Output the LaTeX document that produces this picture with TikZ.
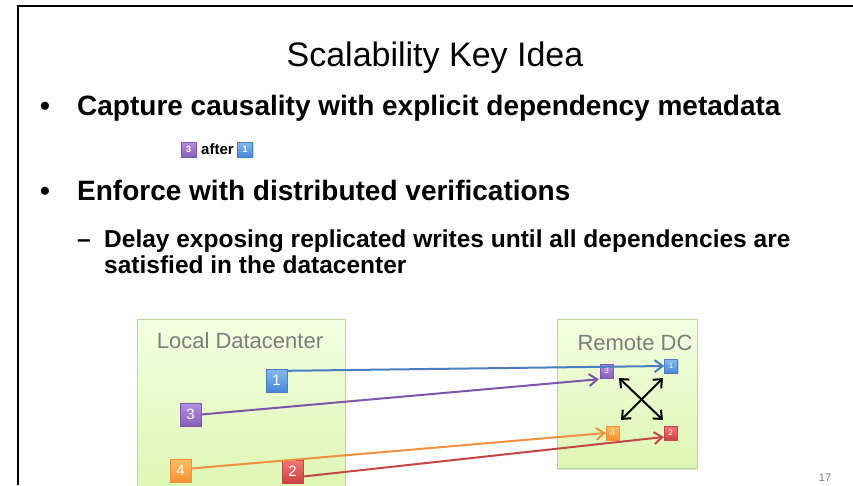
\documentclass[tikz,border=0pt]{standalone}
\usepackage{fontspec}
\setmainfont{Liberation Sans}
\usetikzlibrary{arrows.meta,shadows}
\definecolor{bluetop}{RGB}{135,185,240}
\definecolor{bluebot}{RGB}{70,135,215}
\definecolor{blueline}{RGB}{75,125,195}
\definecolor{purptop}{RGB}{180,145,225}
\definecolor{purpbot}{RGB}{135,95,185}
\definecolor{purpline}{RGB}{125,85,170}
\definecolor{orgtop}{RGB}{255,190,100}
\definecolor{orgbot}{RGB}{245,145,50}
\definecolor{orgline}{RGB}{240,145,65}
\definecolor{redtop}{RGB}{240,120,120}
\definecolor{redbot}{RGB}{205,65,65}
\definecolor{redline}{RGB}{195,70,70}
\definecolor{grtop}{RGB}{242,255,225}
\definecolor{grbot}{RGB}{222,246,180}
\definecolor{grborder}{RGB}{185,215,150}
\definecolor{labgray}{RGB}{125,125,125}
\tikzset{
  dcbox/.style={draw=grborder, line width=0.8pt, top color=grtop, bottom color=grbot, drop shadow={shadow xshift=1pt, shadow yshift=-2pt, opacity=0.25}},
  dclabel/.style={text=labgray, font=\fontsize{22}{26}\selectfont, inner sep=0pt},
  numbox/.style={rectangle, inner sep=0pt, text=white, drop shadow={shadow xshift=1pt, shadow yshift=-1pt, opacity=0.3}},
  bignum/.style={numbox, minimum width=21pt, minimum height=23pt, font=\fontsize{15}{15}\selectfont},
  smallnum/.style={numbox, minimum width=13pt, minimum height=14pt, font=\fontsize{8}{8}\selectfont},
  legnum/.style={numbox, minimum width=15pt, minimum height=15pt, font=\bfseries\fontsize{9}{9}\selectfont},
  bluebox/.style={draw=blueline, top color=bluetop, bottom color=bluebot},
  purpbox/.style={draw=purpline, top color=purptop, bottom color=purpbot},
  orgbox/.style={draw=orgbot, top color=orgtop, bottom color=orgbot},
  redbox/.style={draw=redline, top color=redtop, bottom color=redbot},
  conn/.style={line width=2pt, -{Straight Barb[length=8pt,width=12pt,line width=2pt]}},
  sync/.style={line width=2pt, black, {Straight Barb[length=7pt,width=12pt,line width=2pt]}-{Straight Barb[length=7pt,width=12pt,line width=2pt]}},
  bullettext/.style={anchor=base west, inner sep=0pt, font=\bfseries\fontsize{28}{32}\selectfont},
  subtext/.style={anchor=base west, inner sep=0pt, font=\bfseries\fontsize{24.5}{28}\selectfont},
}
\begin{document}
\begin{tikzpicture}[x=1pt,y=-1pt]
\useasboundingbox (0,0) rectangle (853,485);
\fill[white] (0,0) rectangle (853,485);
% frame
\draw[line width=2.5pt, black] (18,485) -- (18,6) -- (853,6);
% title
\node[anchor=base, inner sep=0pt, font=\fontsize{34}{38}\selectfont] (title) at (435,66) {Scalability Key Idea};
% bullets
\node[bullettext] (b1dot) at (40,115) {•};
\node[bullettext] (b1) at (77,115) {Capture causality with explicit dependency metadata};
\node[legnum, purpbox] (leg3) at (188.5,149.5) {3};
\node[anchor=west, inner sep=0pt, font=\bfseries\fontsize{15}{18}\selectfont] (after) at (201,149.5) {after};
\node[legnum, bluebox] (leg1) at (245,149.5) {1};
\node[bullettext] (b2dot) at (40,200) {•};
\node[bullettext] (b2) at (77,200) {Enforce with distributed verifications};
\node[subtext] (sdash) at (77,247) {–};
\node[subtext] (s1) at (104,247) {Delay exposing replicated writes until all dependencies are};
\node[subtext] (s2) at (104,273) {satisfied in the datacenter};
% datacenters
\path[dcbox] (137,319) rectangle (345,492);
\path[dcbox] (557,319) rectangle (697,468);
\node[dclabel] (loclab) at (240,341) {Local Datacenter};
\node[dclabel] (remlab) at (635,343) {Remote DC};
% local boxes
\node[bignum, bluebox] (l1) at (276.5,380.5) {1};
\node[bignum, purpbox] (l3) at (190.5,414.5) {3};
\node[bignum, orgbox] (l4) at (180.5,470.5) {4};
\node[bignum, redbox] (l2) at (292.5,471.5) {2};
% remote boxes
\node[smallnum, bluebox] (r1) at (671,366) {1};
\node[smallnum, purpbox] (r3) at (606.5,371) {3};
\node[smallnum, orgbox] (r4) at (612.5,433) {4};
\node[smallnum, redbox] (r2) at (670.5,433) {2};
% connectors
\draw[conn, blueline] ([yshift=-2pt]l1.north east) -- (r1.west);
\draw[conn, purpline] (l3.east) -- ([xshift=-1pt,yshift=-1pt]r3.south west);
\draw[conn, orgline] ([yshift=2pt]l4.east) -- (r4.west);
\draw[conn, redline] ([yshift=-5pt]l2.east) -- ([yshift=-4pt]r2.west);
% sync arrows
\coordinate (xa) at (619,378);
\coordinate (xb) at (663,420);
\coordinate (xc) at (663,378);
\coordinate (xd) at (621,420);
\draw[sync] (xa) -- (xb);
\draw[sync] (xc) -- (xd);
% page number
\node[text=labgray, font=\fontsize{11}{12}\selectfont, inner sep=0pt] (pg) at (825,478) {17};
\end{tikzpicture}
\end{document}
